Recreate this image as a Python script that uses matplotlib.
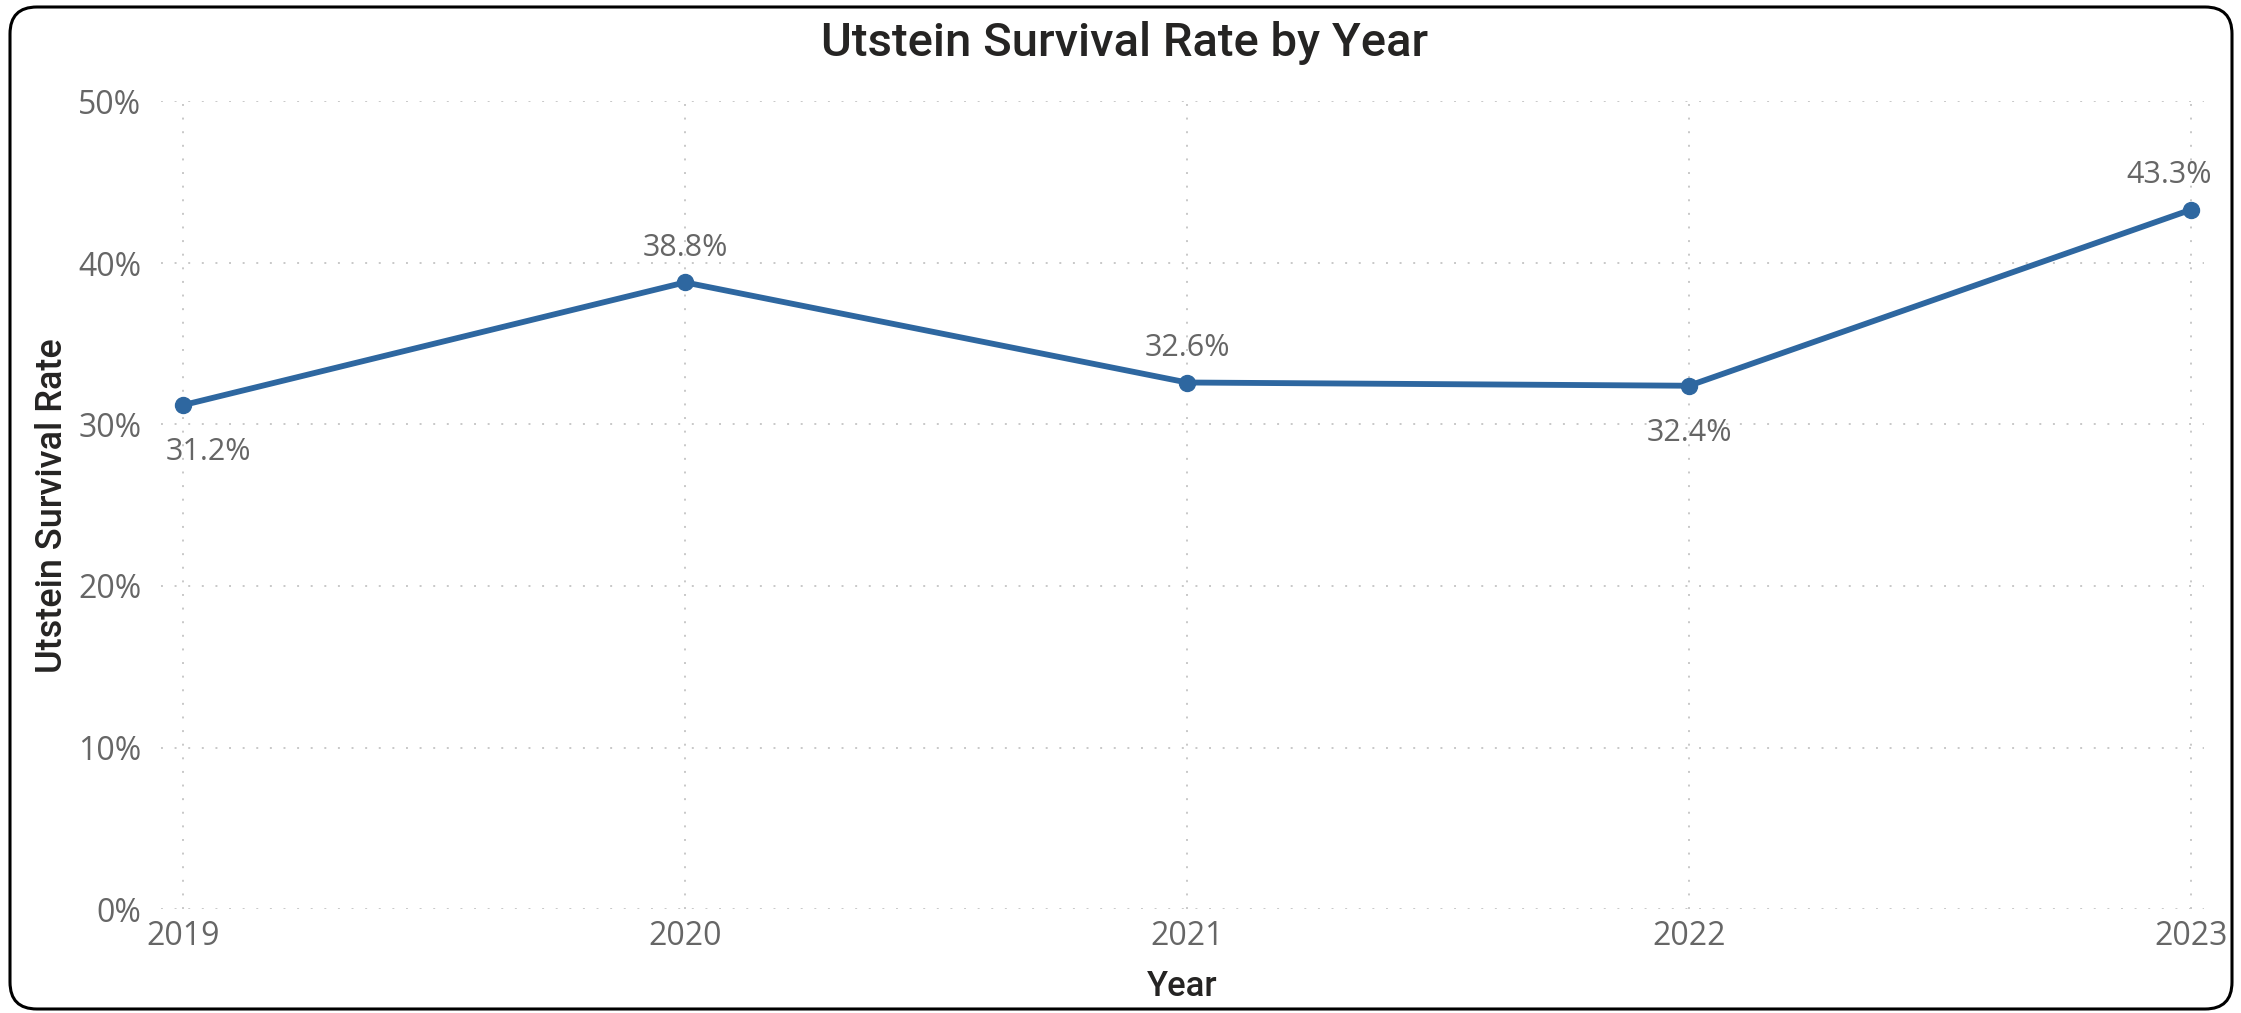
import matplotlib
matplotlib.use("Agg")
import matplotlib.pyplot as plt
from matplotlib.patches import FancyBboxPatch
from matplotlib.ticker import FuncFormatter

years = [2019, 2020, 2021, 2022, 2023]
survival_rate = [0.312, 0.388, 0.326, 0.324, 0.433]
label_pos = ["below", "above", "above", "below", "above"]
yticks = [0.0, 0.1, 0.2, 0.3, 0.4, 0.5]

LINE = "#2e67a0"
GRAY = "#666666"
DARK = "#252423"

fig = plt.figure(figsize=(22.41, 10.13), dpi=100)
ax = fig.add_axes([161/2241, 1-909/1013, (2204-161)/2241, (909-101.5)/1013])

ax.plot(years, survival_rate, color=LINE, lw=4.2, marker="o", ms=11.5,
        clip_on=False, zorder=3, solid_joinstyle="round")

for x, y, p in zip(years, survival_rate, label_pos):
    txt = f"{y*100:.1f}%"
    dx = 0
    if x == years[0]:
        dx = 18
    if x == years[-1]:
        dx = -16
    if p == "above":
        ax.annotate(txt, (x, y), xytext=(dx, 14), textcoords="offset points",
                    ha="center", va="bottom", fontsize=22, color=GRAY, family="Open Sans")
    else:
        ax.annotate(txt, (x, y), xytext=(dx, -23), textcoords="offset points",
                    ha="center", va="top", fontsize=22, color=GRAY, family="Open Sans")

ax.set_xlim(2019 - 0.044, 2023 + 0.026)
ax.set_ylim(0, 0.5)
ax.set_xticks(years)
ax.set_xticklabels([str(y) for y in years])
ax.set_yticks(yticks)
ax.yaxis.set_major_formatter(FuncFormatter(lambda v, _: f"{v*100:.0f}%"))

for s in ax.spines.values():
    s.set_visible(False)
ax.tick_params(axis="both", length=0, labelsize=23, labelcolor=GRAY)
ax.tick_params(axis="y", pad=14)
ax.tick_params(axis="x", pad=8)
for lab in ax.get_xticklabels() + ax.get_yticklabels():
    lab.set_family("Open Sans")

ax.grid(True, color="#c8c8c8", linestyle=(0, (1, 6)), linewidth=1.4)
ax.set_axisbelow(True)

ax.set_xlabel("Year", fontsize=25, color=DARK, family="Roboto", fontweight="medium", labelpad=12)
ax.set_ylabel("Utstein Survival Rate", fontsize=26, color=DARK, family="Roboto",
              fontweight="medium", labelpad=6)

fig.text(1125/2241, 1-43/1013, "Utstein Survival Rate by Year", ha="center", va="center",
         fontsize=34, color=DARK, family="Roboto", fontweight="medium")

border = FancyBboxPatch((10/2241, 4/1013), (2232-10)/2241, (1006-4)/1013,
                        boxstyle="round,pad=0,rounding_size=0.012",
                        transform=fig.transFigure, fill=False, ec="black", lw=2.2,
                        mutation_aspect=2241/1013)
fig.patches.append(border)

fig.savefig("out.png", dpi=100)
